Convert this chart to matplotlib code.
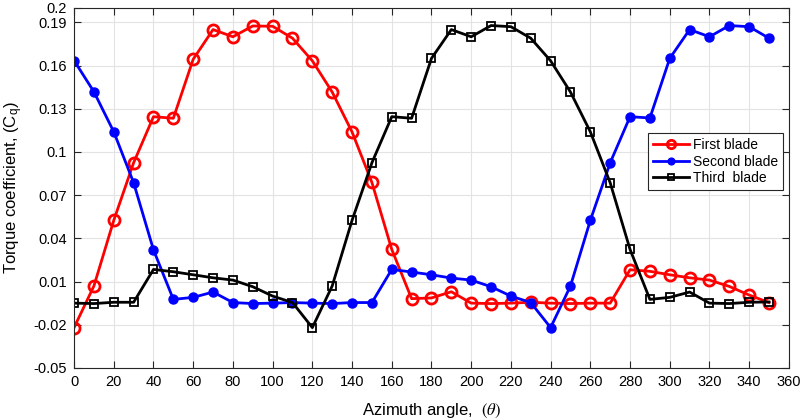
import matplotlib.pyplot as plt

plt.rcParams['font.family'] = ['Liberation Sans', 'DejaVu Sans']
plt.rcParams['mathtext.fontset'] = 'stix'

# Azimuth angles (deg)
azimuth = [0, 10, 20, 30, 40, 50, 60, 70, 80, 90, 100, 110, 120, 130, 140, 150, 160, 170,
           180, 190, 200, 210, 220, 230, 240, 250, 260, 270, 280, 290, 300, 310, 320, 330, 340, 350]

# Torque coefficient of each blade
first_blade = [-0.022, 0.0069, 0.0525, 0.0925, 0.1245, 0.1234, 0.1644, 0.185, 0.180, 0.1875,
               0.1873, 0.179, 0.1633, 0.1416, 0.1139, 0.0788, 0.0323, -0.0019,
               -0.0014, 0.0029, -0.005, -0.0053, -0.005, -0.0044, -0.005, -0.0053,
               -0.005, -0.005, 0.0182, 0.0171, 0.0147, 0.0126, 0.011, 0.0066, 0.0006, -0.0046]
second_blade = [0.1635, 0.1418, 0.114, 0.0786, 0.032, -0.0024, -0.001, 0.0027, -0.0046, -0.0053,
                -0.005, -0.0046, -0.005, -0.0053, -0.0046, -0.0046, 0.0184, 0.0166,
                0.0147, 0.0124, 0.011, 0.0064, -0.0001, -0.0046, -0.022, 0.0069,
                0.0525, 0.0925, 0.1245, 0.1236, 0.165, 0.185, 0.180, 0.1878, 0.187, 0.179]
third_blade = [-0.005, -0.0053, -0.0044, -0.0044, 0.0184, 0.0168, 0.0147, 0.0126, 0.011, 0.0064,
               -0.0001, -0.0046, -0.022, 0.0069, 0.0525, 0.0925, 0.1245, 0.1234,
               0.165, 0.185, 0.180, 0.1878, 0.187, 0.179, 0.1633, 0.1416,
               0.114, 0.0786, 0.0323, -0.0024, -0.001, 0.0027, -0.005, -0.0053, -0.0044, -0.0042]

yticks = [-0.05, -0.02, 0.01, 0.04, 0.07, 0.1, 0.13, 0.16, 0.19, 0.2]
ytick_labels = ['-0.05', '-0.02', '0.01', '0.04', '0.07', '0.1', '0.13', '0.16', '0.19', '0.2']

fig = plt.figure(figsize=(8.05, 4.2), dpi=100)
ax = fig.add_axes([0.092, 0.124, 0.888, 0.857])

ax.plot(azimuth, first_blade, color='#ff0000', lw=2, marker='o', ms=8,
        mfc='none', mec='#ff0000', mew=2, label='First blade')
ax.plot(azimuth, second_blade, color='#0000ff', lw=2, marker='o', ms=6.5,
        mfc='#0000ff', mec='#0000ff', label='Second blade')
ax.plot(azimuth, third_blade, color='black', lw=2, marker='s', ms=6,
        mfc='none', mec='black', mew=1.3, label='Third  blade')

ax.set_xlim(0, 360)
ax.set_ylim(-0.05, 0.2)
ax.set_xticks(range(0, 361, 20))
ax.set_yticks(yticks)
ax.set_yticklabels(ytick_labels)
ax.tick_params(direction='in', top=True, right=True, labelsize=10.5, length=5,
               color='#262626', pad=5)
ax.grid(True, color='#e3e3e3', lw=0.8)
ax.set_axisbelow(True)
for s in ax.spines.values():
    s.set_color('#262626')
    s.set_linewidth(0.8)

ax.set_xlabel(r'Azimuth angle,  $(\theta)$', fontsize=12, labelpad=9)
ax.set_ylabel(r'Torque coefficient, (C$_\mathregular{q}$)', fontsize=12, labelpad=6)

leg = ax.legend(loc='upper right', bbox_to_anchor=(0.992, 0.653), fontsize=10,
                fancybox=False, framealpha=1, edgecolor='#262626', markerscale=0.75,
                handlelength=2.6, borderpad=0.35, labelspacing=0.2, handletextpad=0.3,
                borderaxespad=0)
leg.get_frame().set_linewidth(0.8)

plt.savefig('out.png', dpi=100)
